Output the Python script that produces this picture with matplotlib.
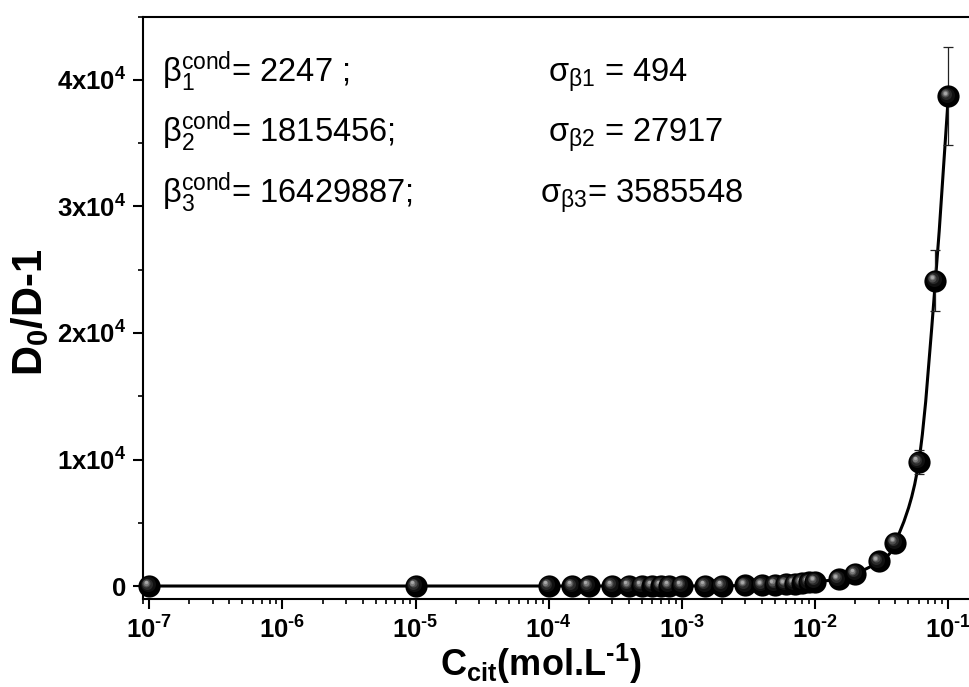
import numpy as np
import matplotlib
matplotlib.use("Agg")
import matplotlib.pyplot as plt
from matplotlib.path import Path
from matplotlib.patches import PathPatch
from matplotlib.ticker import MultipleLocator, LogLocator, FuncFormatter, NullFormatter
from matplotlib.transforms import offset_copy

plt.rcParams['font.family'] = ['Liberation Sans', 'DejaVu Sans']
plt.rcParams['font.weight'] = 'bold'
plt.rcParams['mathtext.default'] = 'regular'

# citrate concentration (mol/L) and distribution ratio term D0/D - 1
conc = [1e-7, 1e-5, 1e-4, 1.5e-4, 2e-4, 3e-4, 4e-4, 5e-4, 6e-4, 7e-4, 8e-4,
        1e-3, 1.5e-3, 2e-3, 3e-3, 4e-3, 5e-3, 6e-3, 7e-3, 8e-3, 9e-3, 1e-2,
        1.5e-2, 2e-2, 3e-2, 4e-2, 6e-2, 8e-2, 1e-1]
ratio = [0, 0, 1, 1, 1, 2, 2, 3, 3, 4, 4,
         5, 9, 14, 45, 75, 110, 150, 190, 240, 290, 350,
         530, 950, 1950, 3420, 9800, 24130, 38700]
ratio_err = [0, 0, 0, 0, 0, 0, 0, 0, 0, 0, 0,
             0, 0, 0, 0, 0, 0, 0, 0, 0, 0, 0,
             0, 0, 0, 0, 950, 2430, 3880]

# conditional stability constants and their standard deviations
beta_values = [2247, 1815456, 16429887]
beta_suffix = [' ;', ';', ';']
sigma_values = [494, 27917, 3585548]
sigma_sep = [' = ', ' = ', '= ']

x_ticks = [1e-7, 1e-6, 1e-5, 1e-4, 1e-3, 1e-2, 1e-1]
y_ticks = [0, 10000, 20000, 30000, 40000]

W, H = 970, 687
fig = plt.figure(figsize=(W / 100, H / 100), dpi=100)
left, right, top, bottom = 143, 980, 16.7, 599.3
ax = fig.add_axes([left / W, 1 - bottom / H, (right - left) / W, (bottom - top) / H])

ax.set_xscale('log')
ax.set_xlim(10 ** -7.047, 10 ** -0.762)
ax.set_ylim(-1050, 45000)

# smooth connecting curve (Catmull-Rom in log-x space, drawn as cubic Bezier path)
lx = np.log10(np.array(conc, dtype=float))
yy = np.array(ratio, dtype=float)
n = len(lx)
verts = [(conc[0], ratio[0])]
codes = [Path.MOVETO]
for i in range(n - 1):
    p0 = (lx[max(i - 1, 0)], yy[max(i - 1, 0)])
    p1 = (lx[i], yy[i])
    p2 = (lx[i + 1], yy[i + 1])
    p3 = (lx[min(i + 2, n - 1)], yy[min(i + 2, n - 1)])
    c1 = (p1[0] + (p2[0] - p0[0]) / 6, p1[1] + (p2[1] - p0[1]) / 6)
    c2 = (p2[0] - (p3[0] - p1[0]) / 6, p2[1] - (p3[1] - p1[1]) / 6)
    for c in (c1, c2, p2):
        verts.append((10 ** c[0], c[1]))
    codes += [Path.CURVE4] * 3
ax.add_patch(PathPatch(Path(verts, codes), facecolor='none', edgecolor='black',
                       lw=2.2, zorder=2, capstyle='round', joinstyle='round'))

# error bars where available
mask = [e > 0 for e in ratio_err]
ax.errorbar([c for c, m in zip(conc, mask) if m], [r for r, m in zip(ratio, mask) if m],
            yerr=[e for e, m in zip(ratio_err, mask) if m], fmt='none', ecolor='#222222',
            elinewidth=0.9, capsize=3.6, capthick=0.9, zorder=2.5)

# shaded sphere markers
layers = [(1.00, '#000000', 0.00), (0.68, '#101010', 0.40), (0.50, '#2a2a2a', 0.60),
          (0.36, '#4e4e4e', 0.72), (0.25, '#7a7a7a', 0.80), (0.15, '#a8a8a8', 0.85)]
base_ms = 16
max_off = 3.0
trans = [offset_copy(ax.transData, fig=fig, x=-max_off * f, y=max_off * f, units='points')
         for _, _, f in layers]
for i, (c, r) in enumerate(zip(conc, ratio)):
    for k, (s, col, f) in enumerate(layers):
        ax.plot([c], [r], 'o', ms=base_ms * s, color=col, mec='none',
                transform=trans[k], zorder=3 + i * 0.01 + k * 0.001, clip_on=False)

# axes styling
for side in ['left', 'bottom', 'top', 'right']:
    ax.spines[side].set_linewidth(1.5)
ax.xaxis.set_major_locator(plt.FixedLocator(x_ticks))
ax.xaxis.set_minor_locator(LogLocator(base=10, subs=np.arange(2, 10)))
ax.xaxis.set_minor_formatter(NullFormatter())
ax.xaxis.set_major_formatter(FuncFormatter(
    lambda v, p: '10$^{\u2010%d}$' % abs(int(round(np.log10(v))))))
ax.yaxis.set_major_locator(plt.FixedLocator(y_ticks))
ax.yaxis.set_minor_locator(MultipleLocator(5000))
ax.yaxis.set_major_formatter(FuncFormatter(
    lambda v, p: '0' if v == 0 else '%dx10$^{4}$' % int(round(v / 1e4))))
ax.tick_params(which='both', direction='out', top=False, right=False)
ax.tick_params(which='major', length=7.2, width=1.5, labelsize=18.5, pad=5)
ax.tick_params(which='minor', length=3.6, width=1.2)

fig.text(541 / W, 1 - 676 / H, 'C$_{cit}$(mol.L$^{\u20101}$)', fontsize=26,
         fontweight='bold', ha='center', va='baseline')
fig.text(30 / W, 1 - 312 / H, 'D$_{0}$/D-1', fontsize=30, fontweight='bold',
         rotation=90, ha='center', va='center')

beta_x = 162
sigma_x = [548, 548, 540]
baselines = [82, 142, 203]
for k in range(3):
    fig.text(beta_x / W, 1 - baselines[k] / H,
             r'$\beta_{%d}^{cond}$= %d%s' % (k + 1, beta_values[k], beta_suffix[k]),
             fontsize=23.5, fontweight='normal', va='baseline', ha='left')
    fig.text(sigma_x[k] / W, 1 - baselines[k] / H,
             r'$\sigma_{\beta%d}$%s%d' % (k + 1, sigma_sep[k], sigma_values[k]),
             fontsize=23.5, fontweight='normal', va='baseline', ha='left')

fig.savefig('out.png', dpi=100)
